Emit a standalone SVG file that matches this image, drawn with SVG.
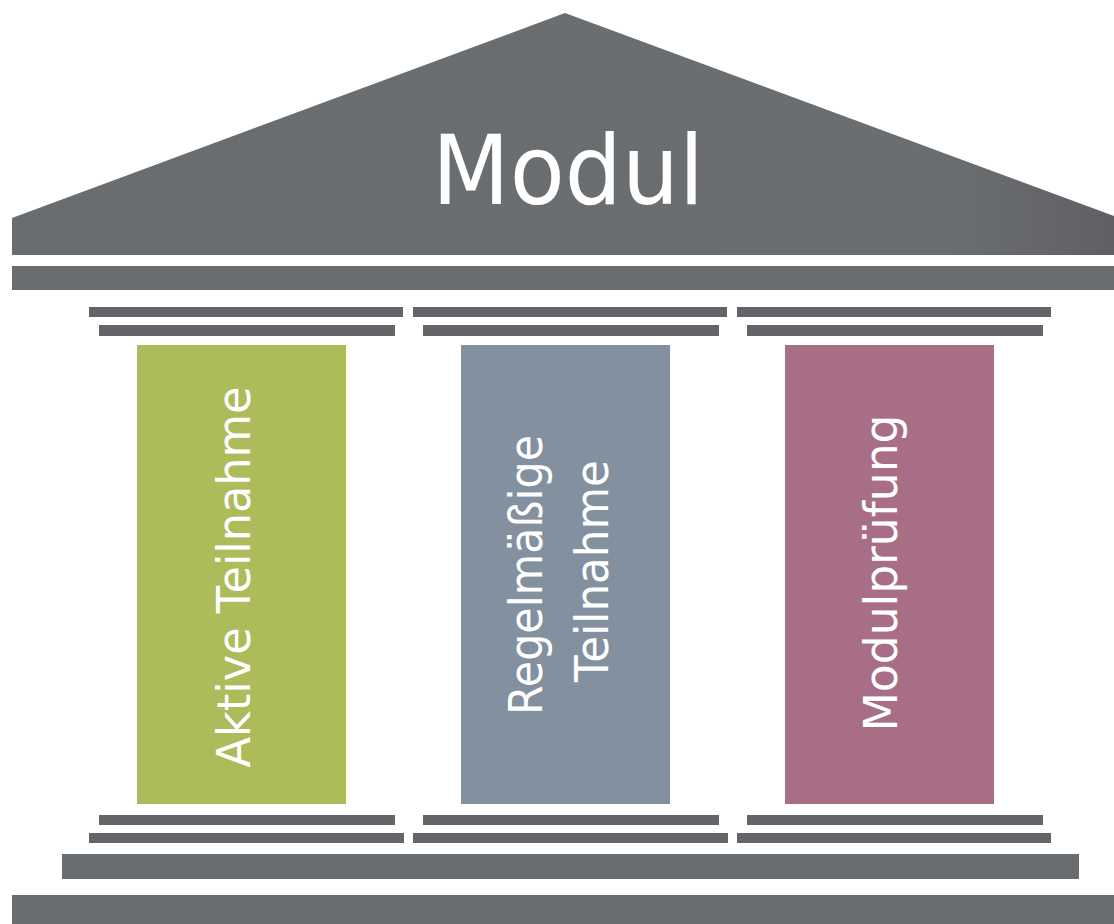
<svg xmlns="http://www.w3.org/2000/svg" width="1114" height="924" viewBox="0 0 1114 924">
<defs>
<linearGradient id="roofGrad" x1="0" y1="0" x2="1" y2="0">
<stop offset="0" stop-color="#6a6d70"/>
<stop offset="0.85" stop-color="#6b6e71"/>
<stop offset="1" stop-color="#5f6064"/>
</linearGradient>
<style>
.gray{fill:#6a6d70}
.bar{fill:#656468}
.lbl{fill:#ffffff;font-family:"DejaVu Sans","Liberation Sans",sans-serif;text-anchor:middle}
</style>
</defs>
<rect width="1114" height="924" fill="#ffffff"/>
<g id="roof">
<polygon points="12,218 565,13 1114,216 1114,255 12,255" fill="url(#roofGrad)"/>
<text class="lbl" x="568" y="204" font-size="96" textLength="272" lengthAdjust="spacingAndGlyphs">Modul</text>
</g>
<g id="architrave">
<rect class="gray" x="12" y="266" width="1102" height="24"/>
</g>
<g id="capitals">
<rect class="bar" x="89" y="307" width="314" height="10"/>
<rect class="bar" x="99" y="325" width="296" height="11"/>
<rect class="bar" x="413" y="307" width="314" height="10"/>
<rect class="bar" x="423" y="325" width="296" height="11"/>
<rect class="bar" x="737" y="307" width="314" height="10"/>
<rect class="bar" x="747" y="325" width="296" height="11"/>
</g>
<g id="col-aktive">
<rect x="137" y="345" width="209" height="459" fill="#adbb5a"/>
<text class="lbl" transform="translate(250,577) rotate(-90)" font-size="46" textLength="381" lengthAdjust="spacingAndGlyphs">Aktive Teilnahme</text>
</g>
<g id="col-regelmaessig">
<rect x="461" y="345" width="209" height="459" fill="#8390a0"/>
<text class="lbl" transform="translate(542,575) rotate(-90)" font-size="46" textLength="280" lengthAdjust="spacingAndGlyphs">Regelmäßige</text>
<text class="lbl" transform="translate(608,571) rotate(-90)" font-size="46" textLength="222" lengthAdjust="spacingAndGlyphs">Teilnahme</text>
</g>
<g id="col-modulpruefung">
<rect x="785" y="345" width="209" height="459" fill="#a86e86"/>
<text class="lbl" transform="translate(897,573) rotate(-90)" font-size="46" textLength="317" lengthAdjust="spacingAndGlyphs">Modulprüfung</text>
</g>
<g id="bases">
<rect class="bar" x="99" y="815" width="296" height="10"/>
<rect class="bar" x="89" y="833" width="315" height="10"/>
<rect class="bar" x="423" y="815" width="296" height="10"/>
<rect class="bar" x="413" y="833" width="315" height="10"/>
<rect class="bar" x="747" y="815" width="296" height="10"/>
<rect class="bar" x="737" y="833" width="314" height="10"/>
</g>
<g id="stylobate">
<rect class="gray" x="62" y="854" width="1017" height="25"/>
<rect class="gray" x="12" y="895" width="1102" height="29"/>
</g>
<g id="connectors"/>
</svg>
